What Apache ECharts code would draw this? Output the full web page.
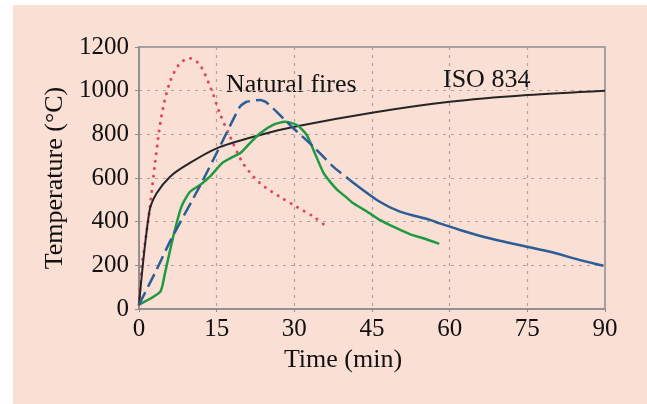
<!DOCTYPE html>
<html>
<head>
<meta charset="utf-8">
<script src="https://cdn.jsdelivr.net/npm/echarts@6/dist/echarts.min.js"></script>
<style>
html,body{margin:0;padding:0;background:#ffffff;}
#wrap{position:relative;width:647px;height:404px;overflow:hidden;}
#bg{position:absolute;left:13px;top:5px;right:0;bottom:0;background:#f9dfd4;}
#chart{position:absolute;left:0;top:0;width:647px;height:404px;}
</style>
</head>
<body>
<div id="wrap"><div id="bg"></div><div id="chart"></div></div>
<script>
// Tick values
const xTicks = [0, 15, 30, 45, 60, 75, 90];
const yTicks = [0, 200, 400, 600, 800, 1000, 1200];

// ISO 834 standard curve
const isoTime = [0, 2, 3.4, 6, 9.2, 15, 23.4, 30, 45, 60, 75, 90];
const isoTemp = [20, 446, 530, 606, 660, 736, 797, 835, 899, 949, 980, 1000];

// Natural fire 1 (red dotted)
const redTime = [0, 0.52, 1.16, 2.12, 3.09, 4.38, 6.0, 7.9, 9.85, 11.8, 14.0, 15.6, 17.6, 20.1, 23.4, 27.2, 30.4, 33.7, 35.6];
const redTemp = [20, 194, 301, 469, 667, 889, 1041, 1125, 1148, 1117, 1003, 896, 789, 667, 576, 514, 469, 423, 389];

// Natural fire 2 (blue, dashed part then solid part)
const blueDashTime = [0, 3.4, 6, 11.8, 15.6, 19.5, 20.8, 23.4, 24.7, 29.8, 33.7, 37.5, 40.7];
const blueDashTemp = [20, 180, 310, 565, 743, 927, 949, 957, 945, 828, 743, 652, 591];
const blueSolidTime = [40.7, 46.5, 50.4, 56.2, 58.1, 62, 66.5, 74.9, 79.4, 85.2, 89.7];
const blueSolidTemp = [591, 491, 446, 408, 392, 362, 331, 285, 262, 224, 198];

// Natural fire 3 (green)
const greenTime = [0, 4.1, 5.0, 6.6, 8.2, 9.85, 11.8, 13.7, 16.0, 17.6, 19.5, 21.4, 23.4, 25.9, 28.2, 30.5, 32.4, 33.7, 35.6, 37.0, 38.2, 40.1, 41.4, 44.6, 46.5, 49.1, 52.3, 54.9, 58.0];
const greenTemp = [20, 79, 163, 331, 469, 537, 568, 606, 667, 690, 713, 759, 805, 843, 858, 843, 797, 728, 625, 580, 548, 510, 484, 438, 408, 377, 343, 324, 298];

// Labels
const xTitle = 'Time (min)';
const yTitle = 'Temperature (°C)';
const naturalLabel = 'Natural fires';
const isoLabel = 'ISO 834';

const zip = (a, b) => a.map((v, i) => [v, b[i]]);
const FONT = 'Liberation Serif, Times New Roman, serif';

const chart = echarts.init(document.getElementById('chart'), null, {renderer: 'canvas'});
chart.setOption({
  backgroundColor: 'transparent',
  animation: false,
  grid: {left: 139, right: 42, top: 47, bottom: 95, show: true, borderColor: '#8c8c8c', borderWidth: 1.5, backgroundColor: 'transparent'},
  xAxis: {
    type: 'value', min: xTicks[0], max: xTicks[xTicks.length - 1], interval: 15,
    name: xTitle, nameLocation: 'middle', nameGap: 33,
    nameTextStyle: {fontFamily: FONT, fontSize: 26, color: '#111', padding: [0, 58, 0, 0]},
    axisLine: {show: true, lineStyle: {color: '#8c8c8c', width: 1.5}},
    axisTick: {show: true, length: 3, inside: false, lineStyle: {color: '#8c8c8c'}},
    axisLabel: {fontFamily: FONT, fontSize: 25, color: '#111', margin: 8, formatter: v => String(v)},
    splitLine: {show: true, lineStyle: {color: '#a9a3a3', type: [3, 5], width: 1.2}}
  },
  yAxis: {
    type: 'value', min: yTicks[0], max: yTicks[yTicks.length - 1], interval: 200,
    name: yTitle, nameLocation: 'middle', nameGap: 58, nameRotate: 90,
    nameTextStyle: {fontFamily: FONT, fontSize: 26, color: '#111'},
    axisLine: {show: true, lineStyle: {color: '#8c8c8c', width: 1.5}},
    axisTick: {show: true, length: 4, inside: false, lineStyle: {color: '#8c8c8c'}},
    axisLabel: {fontFamily: FONT, fontSize: 25, color: '#111', margin: 10, formatter: v => String(v)},
    splitLine: {show: true, lineStyle: {color: '#a9a3a3', type: [3, 5], width: 1.2}}
  },
  graphic: [
    {type: 'text', left: 226, top: 72, style: {text: naturalLabel, font: '26px ' + FONT, fill: '#111'}},
    {type: 'text', left: 443, top: 67, style: {text: isoLabel, font: '26px ' + FONT, fill: '#111'}}
  ],
  series: [
    {type: 'line', data: zip(redTime, redTemp), smooth: 0.3, showSymbol: false, z: 3,
     lineStyle: {color: '#e0475a', width: 3, type: [0.1, 7.5], cap: 'round'}},
    {type: 'line', data: zip(isoTime, isoTemp), smooth: 0.3, showSymbol: false, z: 4,
     lineStyle: {color: '#252525', width: 2}},
    {type: 'line', data: zip(greenTime, greenTemp), smooth: 0.2, showSymbol: false, z: 5,
     lineStyle: {color: '#1f9a42', width: 2.5}},
    {type: 'line', data: zip(blueDashTime, blueDashTemp), smooth: 0.2, showSymbol: false, z: 6,
     lineStyle: {color: '#2b5d96', width: 2.5, type: [14, 6]}},
    {type: 'line', data: zip(blueSolidTime, blueSolidTemp), smooth: 0.3, showSymbol: false, z: 6,
     lineStyle: {color: '#2b5d96', width: 2.5}}
  ]
});
</script>
</body>
</html>
